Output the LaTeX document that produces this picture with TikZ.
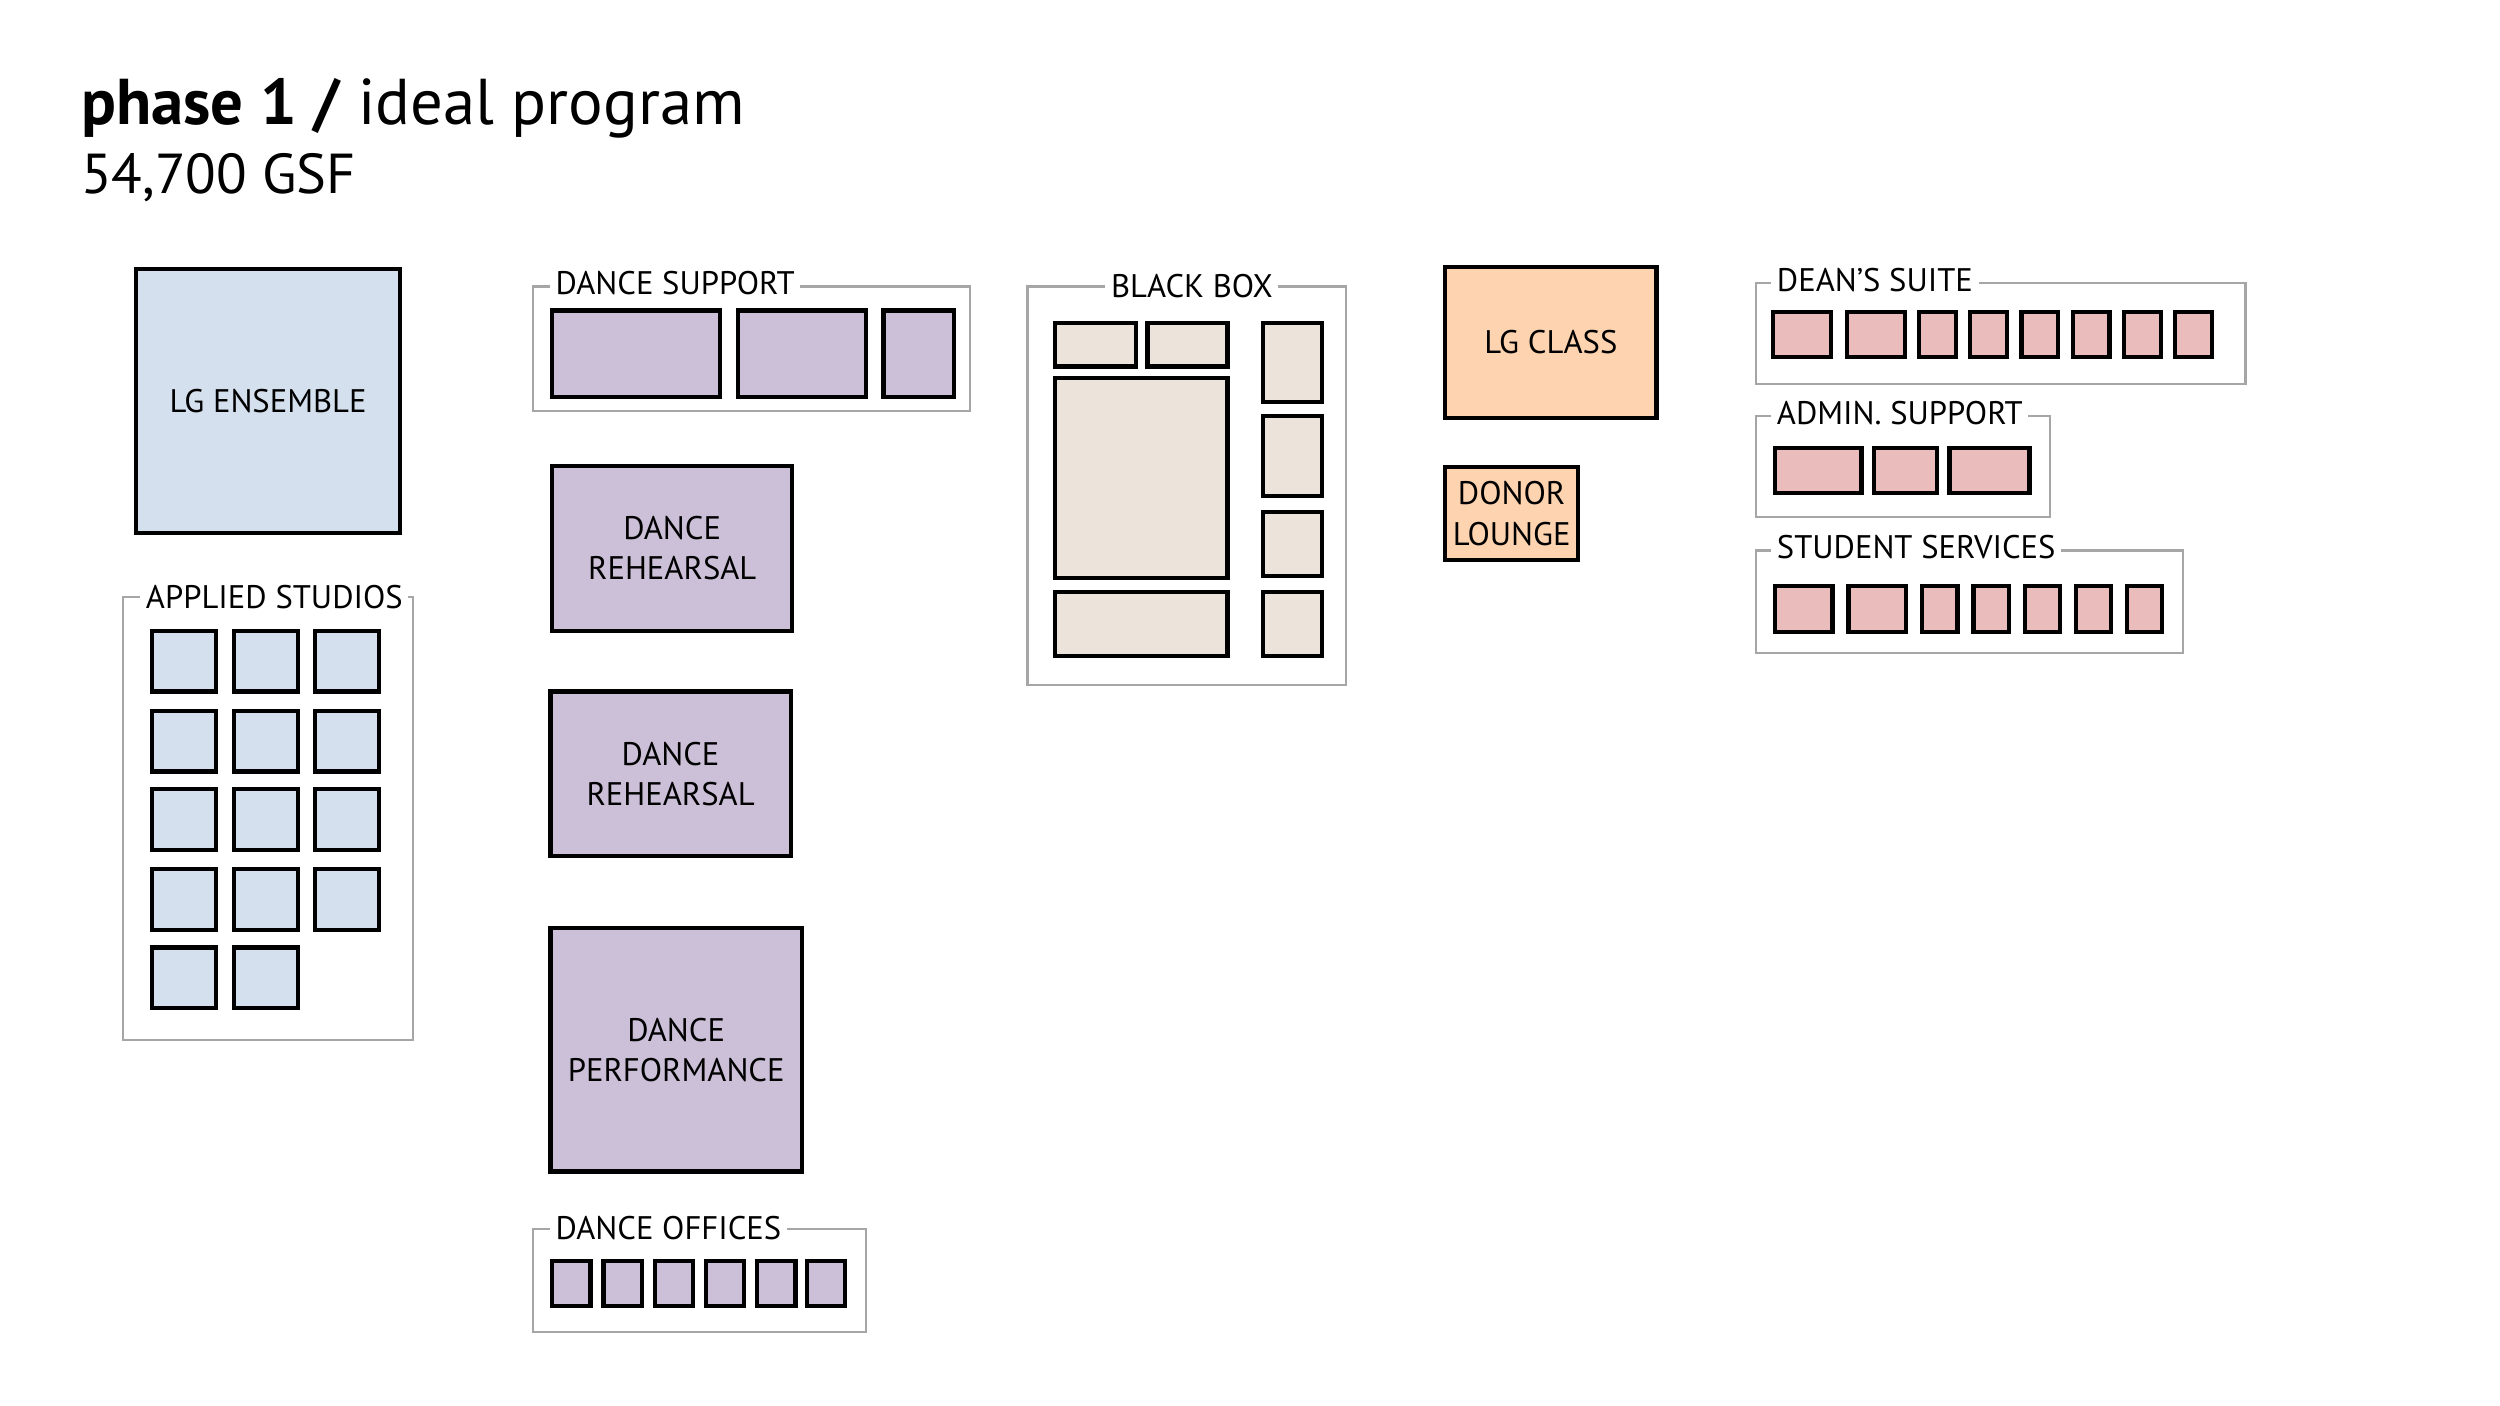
\documentclass[tikz,border=0pt]{standalone}
\usepackage{fontspec}
\setmainfont{PT Sans}
\definecolor{ensblue}{HTML}{D4E0EE}
\definecolor{dancepurple}{HTML}{CCC0D8}
\definecolor{boxbeige}{HTML}{ECE4DA}
\definecolor{classorange}{HTML}{FDD3B0}
\definecolor{suitepink}{HTML}{EBBCBC}
\begin{document}
\begin{tikzpicture}[x=0.01cm,y=-0.01cm]
\tikzset{room/.style = {draw=black, line width=0.75pt}}
\tikzset{group/.style = {draw=black!35, line width=0.4pt}}
\tikzset{grouplabel/.style = {fill=white, inner sep=1pt, anchor=west, font=\fontsize{5.8}{6}\selectfont}}
\tikzset{roomlabel/.style = {align=center, font=\fontsize{5.8}{7.2}\selectfont}}
\useasboundingbox (0,0) rectangle (1562,878);
% title
\node[anchor=base west, inner sep=0, font=\fontsize{11.5}{12}\selectfont] (title) at (50,78) {\textbf{phase 1 /} ideal program};
\node[anchor=base west, inner sep=0, font=\fontsize{10}{12}\selectfont] (area) at (50,121) {54,700 GSF};
% ensemble and studios
\draw[room, fill=ensblue] (85,168) rectangle (250,333) node[midway, roomlabel] (ens) {LG ENSEMBLE};
\draw[group] (77,373) rectangle (258,650);
\node[grouplabel] (studios) at (87,373) {APPLIED STUDIOS};
\foreach \y in {394,444,493,543}
  \foreach \x in {95,146,197}
    \draw[room, fill=ensblue] (\x,\y) rectangle ++(40,38);
\foreach \x in {95,146}
  \draw[room, fill=ensblue] (\x,592) rectangle ++(40,38);
% dance
\draw[group] (333,179) rectangle (606,257);
\node[grouplabel] (support) at (343,177) {DANCE SUPPORT};
\draw[room, fill=dancepurple] (345,194) rectangle (450,248);
\draw[room, fill=dancepurple] (461,194) rectangle (541,248);
\draw[room, fill=dancepurple] (552,194) rectangle (596,248);
\draw[room, fill=dancepurple] (345,291) rectangle (495,394) node[midway, roomlabel] (reh1) {DANCE\\REHEARSAL};
\draw[room, fill=dancepurple] (344,432) rectangle (494,535) node[midway, roomlabel] (reh2) {DANCE\\REHEARSAL};
\draw[room, fill=dancepurple] (344,580) rectangle (501,732) node[midway, roomlabel] (perf) {DANCE\\PERFORMANCE};
\draw[group] (333,768) rectangle (541,832);
\node[grouplabel] (offices) at (343,767) {DANCE OFFICES};
\foreach \x in {345,377,409,441,473,504}
  \draw[room, fill=dancepurple] (\x,788) rectangle ++(24,28);
% black box
\draw[group] (642,179) rectangle (841,428);
\node[grouplabel] (blackbox) at (690,179) {BLACK BOX};
\draw[room, fill=boxbeige] (659,202) rectangle (710,229);
\draw[room, fill=boxbeige] (717,202) rectangle (767,229);
\draw[room, fill=boxbeige] (659,236) rectangle (767,361);
\draw[room, fill=boxbeige] (659,370) rectangle (767,410);
\draw[room, fill=boxbeige] (789,202) rectangle (826,251);
\draw[room, fill=boxbeige] (789,260) rectangle (826,310);
\draw[room, fill=boxbeige] (789,320) rectangle (826,360);
\draw[room, fill=boxbeige] (789,370) rectangle (826,410);
% class and lounge
\draw[room, fill=classorange] (903,167) rectangle (1035,261) node[midway, roomlabel] (class) {LG CLASS};
\draw[room, fill=classorange] (903,292) rectangle (986,350) node[midway, roomlabel] (lounge) {DONOR\\LOUNGE};
% dean, admin, students
\draw[group] (1097,177) rectangle (1403,240);
\node[grouplabel] (dean) at (1106,175) {DEAN'S SUITE};
\draw[room, fill=suitepink] (1108,195) rectangle (1144,223);
\draw[room, fill=suitepink] (1154,195) rectangle (1190,223);
\foreach \x in {1199,1231,1263,1295,1327,1359}
  \draw[room, fill=suitepink] (\x,195) rectangle ++(23,28);
\draw[group] (1097,260) rectangle (1281,323);
\node[grouplabel] (admin) at (1106,258) {ADMIN. SUPPORT};
\draw[room, fill=suitepink] (1109,280) rectangle (1163,308);
\draw[room, fill=suitepink] (1171,280) rectangle (1210,308);
\draw[room, fill=suitepink] (1218,280) rectangle (1268,308);
\draw[group] (1097,344) rectangle (1364,408);
\node[grouplabel] (students) at (1106,342) {STUDENT SERVICES};
\draw[room, fill=suitepink] (1109,366) rectangle (1145,395);
\draw[room, fill=suitepink] (1155,366) rectangle (1191,395);
\foreach \x in {1201,1233,1265,1297,1329}
  \draw[room, fill=suitepink] (\x,366) rectangle ++(22,29);
\end{tikzpicture}
\end{document}
